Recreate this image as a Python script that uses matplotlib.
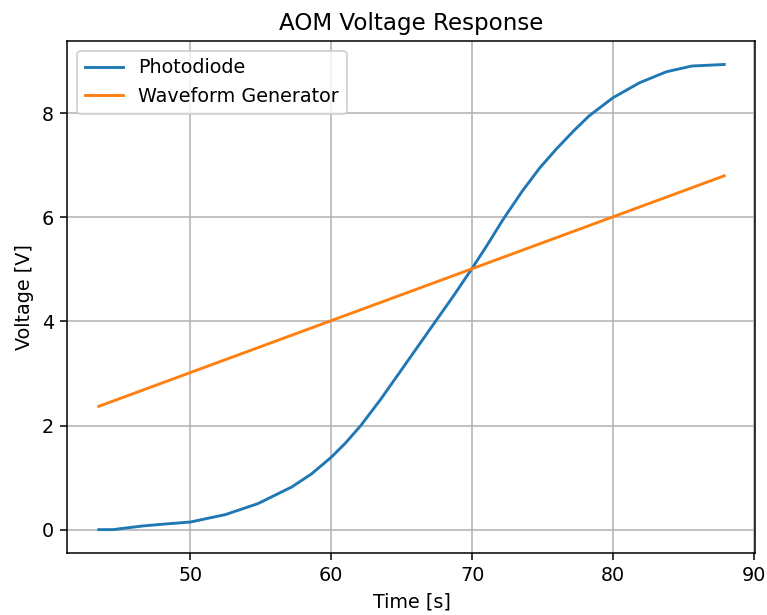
import matplotlib
matplotlib.use("Agg")
import matplotlib.pyplot as plt

# values
time_s = [43.5, 44.5, 46.6, 48.3, 50, 52.5, 54.8, 57.2, 58.6, 60, 61.0,
          62.1, 63.5, 65.4, 67.4, 68.7, 70, 71.1, 72.2, 73.6, 74.8, 76.0,
          77.2, 78.3, 80, 81.9, 83.8, 85.6, 87.9]
photodiode = [0.0, 0.0, 0.07, 0.11, 0.146, 0.29, 0.50, 0.82, 1.07, 1.39, 1.66,
              2.0, 2.5, 3.23, 4.0, 4.5, 5.02, 5.48, 5.96, 6.52, 6.95, 7.32,
              7.66, 7.95, 8.30, 8.59, 8.80, 8.91, 8.94]
waveform_t = [43.5, 87.9]
waveform = [2.37, 6.8]

fig = plt.figure(figsize=(767/138, 615/138), dpi=138)
ax = fig.add_axes([0.088, 0.101, 0.897, 0.832])

ax.plot(time_s, photodiode, label="Photodiode")
ax.plot(waveform_t, waveform, label="Waveform Generator")
ax.set_xlabel("Time [s]")
ax.set_ylabel("Voltage [V]")
ax.set_title("AOM Voltage Response")
ax.set_xticks([50, 60, 70, 80, 90])
ax.set_yticks([0, 2, 4, 6, 8])
ax.grid(True)
ax.legend(loc="upper left")

fig.savefig("out.png", dpi=138)
